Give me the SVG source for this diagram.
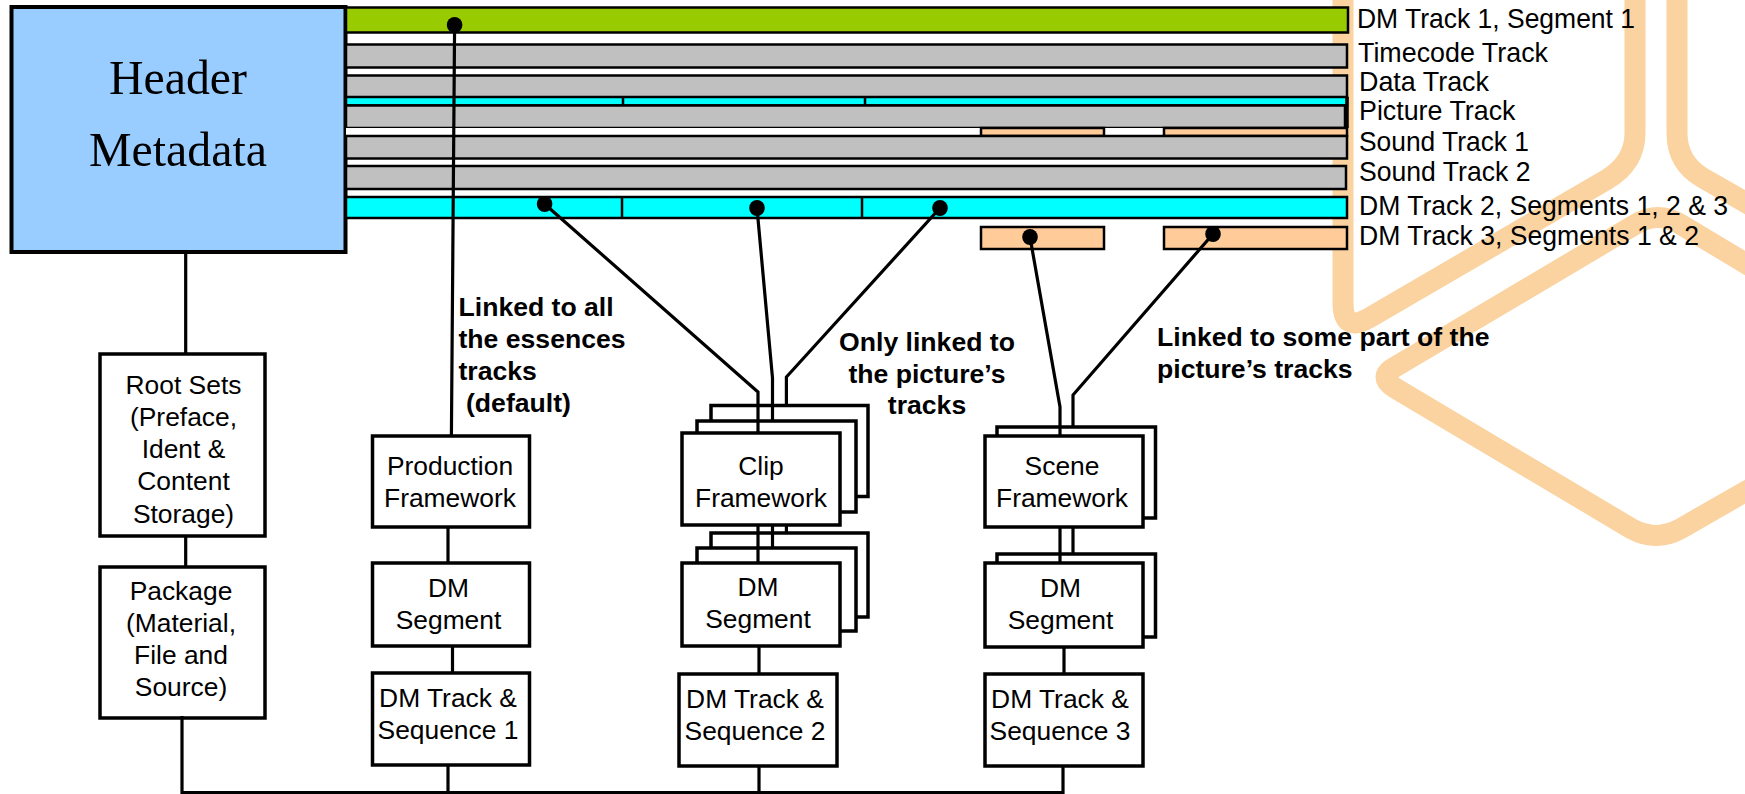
<svg xmlns="http://www.w3.org/2000/svg" width="1745" height="794" viewBox="0 0 1745 794">
<style>
text{font-family:"Liberation Sans",Arial,sans-serif;font-size:26.4px;fill:#000;text-anchor:middle}
.lab{font-size:27.5px;text-anchor:start}
.b{font-size:26.6px;font-weight:bold}
.bl{font-size:26.6px;font-weight:bold;text-anchor:start}
.h{font-family:"Liberation Serif","Times New Roman",serif;font-size:49px}
.box{fill:#fff;stroke:#000;stroke-width:3.5}
.bar{stroke:#000;stroke-width:2.5}
.gr{fill:#C0C0C0}.cy{fill:#00FFFF}.or{fill:#FFCC99}
.wm{fill:none;stroke:#FBD3A0;stroke-width:21}
.ln{fill:none;stroke:#000;stroke-width:3.2}
.dot{fill:#000}
</style>
<g id="watermark">
<path class="wm" d="M1343,0V303Q1343,333 1369,318L1606,180Q1635,163 1635,133V0"/>
<path class="wm" d="M1677,0V133Q1677,163 1703,178L1755,208"/>
<path class="wm" d="M1755,269L1680,224Q1658,211 1636,224L1395,367Q1377,377 1395,388L1632,529Q1656,542 1680,529L1755,486"/>
</g>
<g id="header-metadata">
<rect x="11.5" y="7" width="334" height="245" fill="#99CCFF" stroke="#000" stroke-width="4"/>
<text class="h" x="178" y="94" textLength="138" lengthAdjust="spacingAndGlyphs">Header</text>
<text class="h" x="178" y="166" textLength="178" lengthAdjust="spacingAndGlyphs">Metadata</text>
</g>
<g id="dm-track-1">
<rect class="bar" x="346" y="7.5" width="1002" height="25" fill="#99CC00"/>
<text class="lab" x="1357" y="28" textLength="278" lengthAdjust="spacingAndGlyphs">DM Track 1, Segment 1</text>
</g>
<g id="timecode-track">
<rect class="bar gr" x="346" y="44.5" width="1001" height="23"/>
<text class="lab" x="1358" y="62" textLength="190" lengthAdjust="spacingAndGlyphs">Timecode Track</text>
</g>
<g id="data-track">
<rect class="bar gr" x="346" y="75.5" width="1001" height="22"/>
<text class="lab" x="1359" y="91" textLength="130" lengthAdjust="spacingAndGlyphs">Data Track</text>
</g>
<g id="picture-track">
<rect class="bar cy" x="346" y="97" width="1001" height="8.5"/>
<path class="bar" d="M623,97V105.5M865,97V105.5"/>
<rect class="bar gr" x="346" y="105.5" width="999" height="22.5"/>
<path d="M1347,97V128" stroke="#000" stroke-width="3.5"/>
<text class="lab" x="1359" y="120" textLength="156.500" lengthAdjust="spacingAndGlyphs">Picture Track</text>
</g>
<g id="sound-track-1">
<rect x="346" y="128" width="1001" height="8" fill="#fff"/>
<rect class="bar or" x="981" y="128" width="123" height="8"/>
<rect class="bar or" x="1164" y="128" width="183" height="8"/>
<rect class="bar gr" x="346" y="136" width="1001" height="22.5"/>
<text class="lab" x="1359" y="151" textLength="170" lengthAdjust="spacingAndGlyphs">Sound Track 1</text>
</g>
<g id="sound-track-2">
<rect class="bar gr" x="346" y="166" width="1000" height="23"/>
<text class="lab" x="1359" y="181" textLength="171.500" lengthAdjust="spacingAndGlyphs">Sound Track 2</text>
</g>
<g id="dm-track-2">
<rect class="bar cy" x="346" y="197" width="1001" height="21"/>
<path class="bar" d="M622,196V219M862,196V219"/>
<text class="lab" x="1359" y="215" textLength="369" lengthAdjust="spacingAndGlyphs">DM Track 2, Segments 1, 2 &amp; 3</text>
</g>
<g id="dm-track-3">
<rect class="bar or" x="981" y="227" width="123" height="22"/>
<rect class="bar or" x="1164" y="227" width="183" height="22"/>
<text class="lab" x="1359" y="245" textLength="340" lengthAdjust="spacingAndGlyphs">DM Track 3, Segments 1 &amp; 2</text>
</g>
<g id="root-sets">
<rect class="box" x="100" y="354" width="165" height="182"/>
<text x="183.5" y="394">Root Sets</text><text x="183.5" y="426">(Preface,</text><text x="183.5" y="458">Ident &amp;</text><text x="183.5" y="490">Content</text><text x="183.5" y="523">Storage)</text>
</g>
<g id="package">
<rect class="box" x="100" y="567" width="165" height="151"/>
<text x="181" y="600">Package</text><text x="181" y="632">(Material,</text><text x="181" y="664">File and</text><text x="181" y="696">Source)</text>
</g>
<g id="production-framework">
<rect class="box" x="372.500" y="436" width="157" height="91"/>
<text x="450" y="475">Production</text><text x="450" y="507">Framework</text>
</g>
<g id="dm-segment-1">
<rect class="box" x="372.500" y="563" width="157" height="83"/>
<text x="448.500" y="597">DM</text><text x="448.500" y="629">Segment</text>
</g>
<g id="dm-track-sequence-1">
<rect class="box" x="372.500" y="673" width="157" height="92"/>
<text x="448" y="707">DM Track &amp;</text><text x="448" y="739">Sequence 1</text>
</g>
<g id="clip-framework">
<rect class="box" x="711" y="405.500" width="157" height="91"/>
<rect class="box" x="697" y="421" width="159" height="91"/>
<rect class="box" x="682" y="433" width="158" height="92"/>
<text x="761" y="475">Clip</text><text x="761" y="507">Framework</text>
</g>
<g id="dm-segment-2">
<rect class="box" x="711" y="533" width="157" height="84"/>
<rect class="box" x="697" y="548" width="159" height="83"/>
<rect class="box" x="682" y="563" width="158" height="83"/>
<text x="758" y="596">DM</text><text x="758" y="628">Segment</text>
</g>
<g id="dm-track-sequence-2">
<rect class="box" x="679" y="674" width="158" height="92"/>
<text x="755" y="708">DM Track &amp;</text><text x="755" y="740">Sequence 2</text>
</g>
<g id="scene-framework">
<rect class="box" x="997" y="427" width="158.500" height="91"/>
<rect class="box" x="985" y="436" width="158" height="91"/>
<text x="1062" y="475">Scene</text><text x="1062" y="507">Framework</text>
</g>
<g id="dm-segment-3">
<rect class="box" x="997" y="554" width="158.500" height="83"/>
<rect class="box" x="985" y="563" width="158" height="84"/>
<text x="1060.500" y="597">DM</text><text x="1060.500" y="629">Segment</text>
</g>
<g id="dm-track-sequence-3">
<rect class="box" x="985" y="674" width="158" height="92"/>
<text x="1060" y="708">DM Track &amp;</text><text x="1060" y="740">Sequence 3</text>
</g>
<g id="connectors">
<path class="ln" d="M185.700,254V354M185.700,536V567M182,716V792.500H1063V766M448,765V792.500M759,766V792.500"/>
<path class="ln" d="M454.600,25L451.400,436M448,527V563M452.500,646V673"/>
<path class="ln" d="M544.600,204L758,392V433M758,525V563M757,208L772.500,378V421M772.500,525V548M940,208L786.400,377V406M786.400,525V533M759,646V674"/>
<path class="ln" d="M1030,237L1060,407V436M1060,527V563M1213,234L1073,395V427M1073,527V554M1064,647V674"/>
<ellipse class="dot" cx="454.600" cy="25" rx="7.800" ry="8"/>
<ellipse class="dot" cx="544.600" cy="204" rx="7.800" ry="8"/>
<ellipse class="dot" cx="757" cy="208" rx="7.800" ry="8"/>
<ellipse class="dot" cx="940" cy="208" rx="7.800" ry="8"/>
<ellipse class="dot" cx="1030" cy="237" rx="7.800" ry="8"/>
<ellipse class="dot" cx="1213" cy="234" rx="7.800" ry="8"/>
</g>
<g id="notes">
<text class="bl" x="458.500" y="316">Linked to all</text>
<text class="bl" x="458.500" y="348">the essences</text>
<text class="bl" x="458.500" y="380">tracks</text>
<text class="bl" x="466" y="412">(default)</text>
<text class="b" x="927" y="351">Only linked to</text>
<text class="b" x="927" y="383">the picture’s</text>
<text class="b" x="927" y="414">tracks</text>
<text class="bl" x="1157" y="346">Linked to some part of the</text>
<text class="bl" x="1157" y="378">picture’s tracks</text>
</g>
</svg>
